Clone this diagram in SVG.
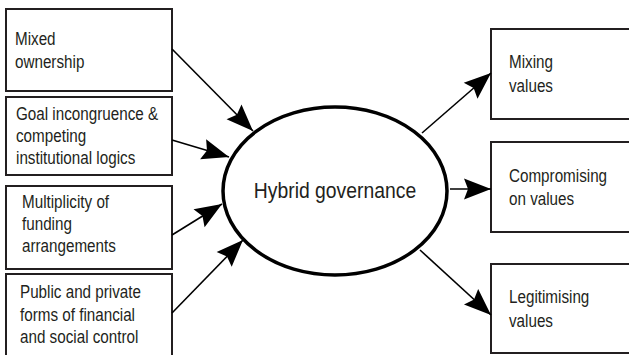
<svg xmlns="http://www.w3.org/2000/svg" width="629" height="355" viewBox="0 0 629 355">
  <style>
    .box { fill: #ffffff; stroke: #231f20; stroke-width: 2; }
    .oval { fill: #ffffff; stroke: #000000; stroke-width: 3.5; }
    .lbl { font-family: "Liberation Sans", Arial, sans-serif; font-size: 17.5px; fill: #231f20; }
    .hub { font-family: "Liberation Sans", Arial, sans-serif; font-size: 21.5px; fill: #231f20; }
    .link { stroke: #000000; stroke-width: 1.6; fill: none; marker-end: url(#head); }
  </style>
  <defs>
    <marker id="head" markerUnits="userSpaceOnUse" markerWidth="32" markerHeight="26" refX="28" refY="11" orient="auto" viewBox="0 0 32 26" overflow="visible">
      <path d="M28,11 L1,0.5 L5,11 L1,21.5 Z" fill="#000000"/>
    </marker>
  </defs>
  <rect width="629" height="355" fill="#ffffff"/>

  <!-- causes (labels set in a narrowed face) -->
  <g id="mixed-ownership">
    <rect class="box" x="6" y="9" width="166" height="82"/>
    <g transform="translate(15 0) scale(0.87 1)">
      <text class="lbl" x="0" y="45">Mixed</text>
      <text class="lbl" x="0" y="68">ownership</text>
    </g>
  </g>
  <g id="goal-incongruence">
    <rect class="box" x="6" y="97" width="166" height="78"/>
    <g transform="translate(16 0) scale(0.87 1)">
      <text class="lbl" x="0" y="120">Goal incongruence &amp;</text>
      <text class="lbl" x="0" y="142">competing</text>
      <text class="lbl" x="0" y="164">institutional logics</text>
    </g>
  </g>
  <g id="funding">
    <rect class="box" x="6" y="186" width="166" height="83"/>
    <g transform="translate(22 0) scale(0.87 1)">
      <text class="lbl" x="0" y="208">Multiplicity of</text>
      <text class="lbl" x="0" y="230">funding</text>
      <text class="lbl" x="0" y="252">arrangements</text>
    </g>
  </g>
  <g id="control">
    <rect class="box" x="6" y="274" width="166" height="90"/>
    <g transform="translate(20 0) scale(0.87 1)">
      <text class="lbl" x="0" y="298">Public and private</text>
      <text class="lbl" x="0" y="321">forms of financial</text>
      <text class="lbl" x="0" y="343">and social control</text>
    </g>
  </g>

  <!-- centre -->
  <g id="hybrid-governance">
    <ellipse class="oval" cx="335" cy="191" rx="112" ry="84"/>
    <g transform="translate(335 0) scale(0.9 1)">
      <text class="hub" x="0" y="198" text-anchor="middle">Hybrid governance</text>
    </g>
  </g>

  <!-- outcomes -->
  <g id="mixing">
    <rect class="box" x="491" y="29" width="150" height="90"/>
    <g transform="translate(509 0) scale(0.87 1)">
      <text class="lbl" x="0" y="68">Mixing</text>
      <text class="lbl" x="0" y="92">values</text>
    </g>
  </g>
  <g id="compromising">
    <rect class="box" x="491" y="142" width="150" height="90"/>
    <g transform="translate(509 0) scale(0.87 1)">
      <text class="lbl" x="0" y="182">Compromising</text>
      <text class="lbl" x="0" y="205">on values</text>
    </g>
  </g>
  <g id="legitimising">
    <rect class="box" x="491" y="264" width="150" height="89"/>
    <g transform="translate(509 0) scale(0.87 1)">
      <text class="lbl" x="0" y="303">Legitimising</text>
      <text class="lbl" x="0" y="327">values</text>
    </g>
  </g>

  <g id="connectors">
    <line class="link" x1="172" y1="49" x2="253" y2="131"/>
    <line class="link" x1="172" y1="140" x2="229" y2="157"/>
    <line class="link" x1="172" y1="235" x2="222" y2="204"/>
    <line class="link" x1="172" y1="313" x2="243" y2="240"/>
    <line class="link" x1="422" y1="133" x2="491" y2="73"/>
    <line class="link" x1="450" y1="189" x2="491" y2="189"/>
    <line class="link" x1="420" y1="250" x2="491" y2="315"/>
  </g>
</svg>
